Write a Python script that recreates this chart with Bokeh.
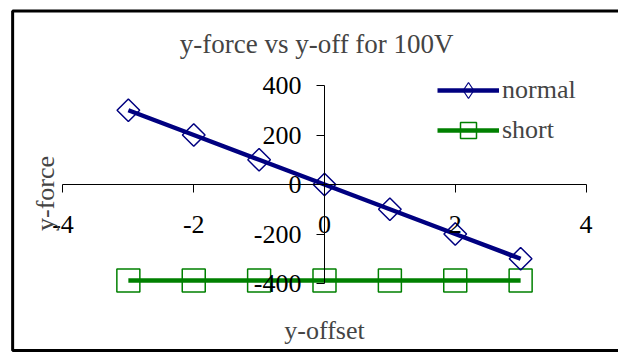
import math

from bokeh.embed import file_html
from bokeh.models import BoxAnnotation, FixedTicker, Label, Legend, LegendItem, Range1d
from bokeh.plotting import figure
from bokeh.resources import INLINE

# y-offset positions and the measured y-force for each configuration
offsets = [-3, -2, -1, 0, 1, 2, 3]
force_normal = [300, 200, 100, 0, -100, -200, -300]
force_short = [-388, -388, -388, -388, -388, -388, -388]

x_ticks = [-4, -2, 0, 2, 4]
x_tick_labels = ["-4", "-2", "0", "2", "4"]
y_ticks = [-400, -200, 0, 200, 400]
y_tick_labels = ["-400", "-200", "0", "200", "400"]

title_text = "y-force vs y-off for 100V"
x_title = "y-offset"
y_title = "y-force"

NAVY = "#000080"
GREEN = "#008000"
SERIF = "Liberation Serif"

p = figure(
    width=618, height=354,
    output_backend="svg", toolbar_location=None,
    x_range=Range1d(-4.818, 4.497), y_range=Range1d(-682.8, 715.2),
    min_border_left=9, min_border_right=0, min_border_top=7, min_border_bottom=1,
)
p.grid.visible = False
p.background_fill_color = "white"
p.border_fill_color = "white"
p.outline_line_color = None

# chart-area border (open on the right, where it runs past the canvas)
p.add_layout(BoxAnnotation(left=-4.77, right=6, top=701, bottom=-670.7,
                           fill_alpha=0, line_color="black", line_alpha=1.0,
                           line_width=3))

# axes cross at the origin
for ax, ticks, labels, bounds in (
    (p.xaxis, x_ticks, x_tick_labels, (-4, 4)),
    (p.yaxis, y_ticks, y_tick_labels, (-400, 400)),
):
    ax.fixed_location = 0
    ax.ticker = FixedTicker(ticks=ticks)
    ax.major_label_overrides = {t: s for t, s in zip(ticks, labels)}
    ax.bounds = bounds
    ax.axis_line_color = "black"
    ax.axis_line_width = 1
    ax.major_tick_line_color = "black"
    ax.major_tick_in = 0
    ax.major_tick_out = 8
    ax.minor_tick_line_color = None
    ax.major_label_text_font = SERIF
    ax.major_label_text_font_size = "26px"
    ax.major_label_text_color = "black"
p.xaxis.major_label_standoff = 23
p.yaxis.major_label_standoff = 15

# series
r_short_line = p.line(offsets, force_short, line_color=GREEN, line_width=4.5)
r_short_mk = p.scatter(offsets, force_short, marker="square", size=23,
                       fill_color=None, line_color=GREEN, line_width=1.5)
r_norm_line = p.line(offsets, force_normal, line_color=NAVY, line_width=4.5)
r_norm_mk = p.scatter(offsets, force_normal, marker="square", size=16, angle=math.pi / 4,
                      fill_color=None, line_color=NAVY, line_width=1.5)

# diamond swatch for the legend entry: mapped onto a range that keeps
# its points outside the visible frame, so only the legend shows it
p.extra_y_ranges = {"legend_key": Range1d(10000, 20000)}
r_norm_key = p.scatter(offsets, force_normal, marker="diamond", size=16,
                       fill_color=None, line_color=NAVY, line_width=1.2,
                       y_range_name="legend_key")

legend = Legend(
    items=[
        LegendItem(label="normal", renderers=[r_norm_line, r_norm_key]),
        LegendItem(label="short", renderers=[r_short_line, r_short_mk]),
    ],
    location=(428, 203),
    border_line_color=None, background_fill_alpha=0,
    padding=0, margin=0, spacing=0,
    glyph_width=62, glyph_height=40, label_height=40, label_standoff=3,
    label_text_font=SERIF, label_text_font_size="26px",
)
p.add_layout(legend)

# titles
p.add_layout(Label(x=-0.12, y=566, text=title_text, text_align="center",
                   text_baseline="middle", text_font=SERIF, text_font_size="27px"))
p.add_layout(Label(x=0, y=-590, text=x_title, text_align="center",
                   text_baseline="middle", text_font=SERIF, text_font_size="26px"))
p.add_layout(Label(x=-4.27, y=-36, text=y_title, text_align="center",
                   text_baseline="middle", angle=math.pi / 2,
                   text_font=SERIF, text_font_size="26px"))

open("out.html", "w").write(file_html(p, INLINE))
